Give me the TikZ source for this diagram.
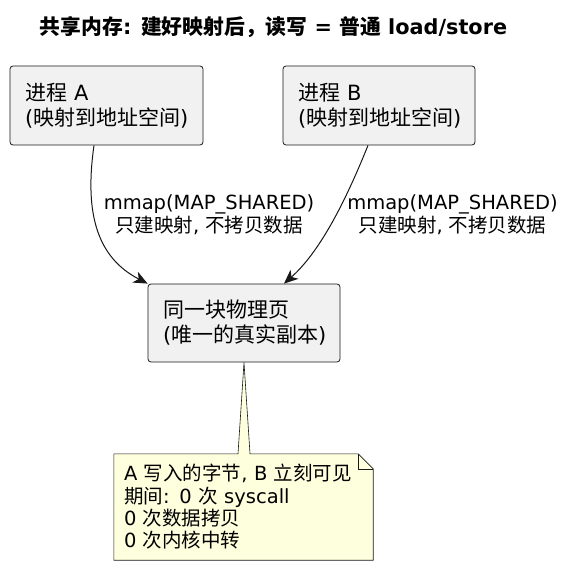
\documentclass[tikz,border=0pt]{standalone}
\usepackage{fontspec}
\setmainfont{DejaVu Sans}
\newfontfamily\cjk{Noto Sans CJK SC}
\newcommand\zh[1]{{\cjk #1}}
\usetikzlibrary{arrows.meta}
\definecolor{boxfill}{HTML}{F1F1F1}
\definecolor{edgecol}{HTML}{181818}
\definecolor{notefill}{HTML}{FEFFDD}
\tikzset{
  box/.style={draw=edgecol, fill=boxfill, rounded corners=3pt, line width=0.8pt,
    text width=#1, align=left, inner xsep=15pt, inner ysep=0pt, minimum height=79pt,
    font=\fontsize{21}{25}\selectfont},
  lbl/.style={align=center, inner sep=0pt, font=\fontsize{19.5}{23}\selectfont},
  notetext/.style={align=left, inner xsep=10pt, inner ysep=0pt, minimum height=106pt,
    text width=239pt, font=\fontsize{19.5}{22.3}\selectfont},
  notebox/.style={draw=edgecol, fill=notefill, line width=0.6pt, line join=miter},
  arr/.style={draw=edgecol, line width=1pt,
    -{Stealth[length=14pt, width=12pt, inset=4pt]}},
  ttl/.style={inner sep=0pt, font=\fontsize{20.8}{24}\selectfont\bfseries}
}
\begin{document}
\begin{tikzpicture}[x=1pt,y=-1pt]
\useasboundingbox (0,0) rectangle (568,569);
\node[ttl] (T) at (273.5,27) {\zh{共享内存}: \zh{建好映射后，读写} = \zh{普通} load/store};
\node[box=163pt] (A) at (106.5,105.5) {\zh{进程} A\\(\zh{映射到地址空间})};
\node[box=162pt] (B) at (379,105.5) {\zh{进程} B\\(\zh{映射到地址空间})};
\node[box=162pt, minimum height=78pt] (C) at (244,323) {\zh{同一块物理页}\\(\zh{唯一的真实副本})};
\node[lbl] (LA) at (209,214.5) {mmap(MAP\_SHARED)\\\zh{只建映射}, \zh{不拷贝数据}};
\node[lbl] (LB) at (452.5,214.5) {mmap(MAP\_SHARED)\\\zh{只建映射}, \zh{不拷贝数据}};
\draw[arr] ([xshift=-12.5pt]A.south) .. controls (84,215) and (98,258) .. (C.north west);
\draw[arr] ([xshift=-11pt]B.south) .. controls (348,195) and (322,250) .. ([xshift=40pt]C.north);
\node[notetext] (N) at (243.5,507) {A \zh{写入的字节}, B \zh{立刻可见}\\\zh{期间}: 0 \zh{次} syscall\\0 \zh{次数据拷贝}\\0 \zh{次内核中转}};
\path[notebox] (N.north west) -- ([xshift=-6pt]C.south |- N.north) -- (C.south)
  -- ([xshift=6pt]C.south |- N.north) -- ([xshift=-15pt]N.north east)
  -- ([yshift=-15pt]N.north east) -- (N.south east) -- (N.south west) -- cycle;
\draw[notebox, fill=none] ([xshift=-15pt]N.north east) |- ([yshift=-15pt]N.north east);
\node[notetext] at (N) {A \zh{写入的字节}, B \zh{立刻可见}\\\zh{期间}: 0 \zh{次} syscall\\0 \zh{次数据拷贝}\\0 \zh{次内核中转}};
\end{tikzpicture}
\end{document}
